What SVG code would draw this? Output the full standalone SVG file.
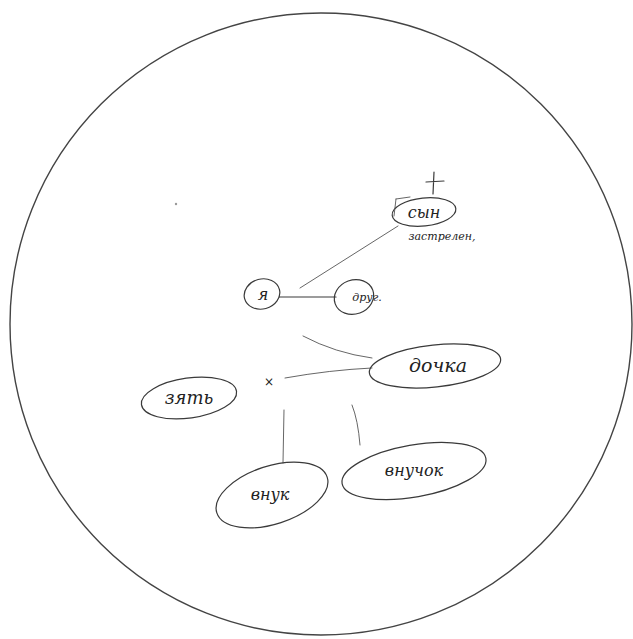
<svg xmlns="http://www.w3.org/2000/svg" width="633" height="639" viewBox="0 0 633 639">
<style>
.ink{fill:none;stroke:#3a3a3a;stroke-width:1.2;stroke-linecap:round}
.thin{fill:none;stroke:#555;stroke-width:0.9;stroke-linecap:round}
.t{font-family:"DejaVu Serif","Liberation Serif",serif;font-style:italic;fill:#222;text-anchor:middle}
</style>
<rect width="633" height="639" fill="#fff"/>
<circle cx="321" cy="324" r="311" fill="none" stroke="#444" stroke-width="1.4"/>
<g id="connectors">
<path class="thin" d="M300 288 L398 226"/>
<path class="ink" d="M279 297 L336 297"/>
<path class="thin" d="M303 336 Q335 353 372 358"/>
<path class="thin" d="M285 378 Q330 370 372 368"/>
<path class="thin" d="M284 410 L283 463"/>
<path class="thin" d="M352 405 Q358 420 360 445"/>
</g>
<g id="son">
<path class="ink" d="M434 172 L433 194 M426 182 L444 181"/>
<ellipse class="ink" cx="424" cy="212" rx="32" ry="14" transform="rotate(-6 424 212)"/>
<path class="thin" d="M396 199 L410 197 M396 199 L394 216"/>
<text class="t" x="424" y="218" font-size="16">сын</text>
<text class="t" x="442" y="240" font-size="11">застрелен,</text>
</g>
<g id="me">
<ellipse class="ink" cx="262" cy="294" rx="18" ry="15" transform="rotate(-15 262 294)"/>
<text class="t" x="263" y="300" font-size="16">я</text>
</g>
<g id="friend">
<ellipse class="ink" cx="354" cy="297" rx="20" ry="17" transform="rotate(-20 354 297)"/>
<text class="t" x="367" y="301" font-size="11">друг.</text>
</g>
<g id="daughter">
<ellipse class="ink" cx="435" cy="366" rx="66" ry="21" transform="rotate(-6 435 366)"/>
<text class="t" x="438" y="372" font-size="19">дочка</text>
</g>
<g id="son-in-law">
<ellipse class="ink" cx="189" cy="398" rx="48" ry="20" transform="rotate(-8 189 398)"/>
<text class="t" x="189" y="404" font-size="18">зять</text>
</g>
<g id="marriage">
<text class="t" x="269" y="386" font-size="12">×</text>
</g>
<g id="grandson">
<ellipse class="ink" cx="272" cy="495" rx="58" ry="29" transform="rotate(-18 272 495)"/>
<text class="t" x="270" y="500" font-size="16">внук</text>
</g>
<g id="grandson2">
<ellipse class="ink" cx="414" cy="471" rx="73" ry="26" transform="rotate(-10 414 471)"/>
<text class="t" x="414" y="476" font-size="16">внучок</text>
</g>
<circle cx="176" cy="204" r="1.2" fill="#999"/>
</svg>
